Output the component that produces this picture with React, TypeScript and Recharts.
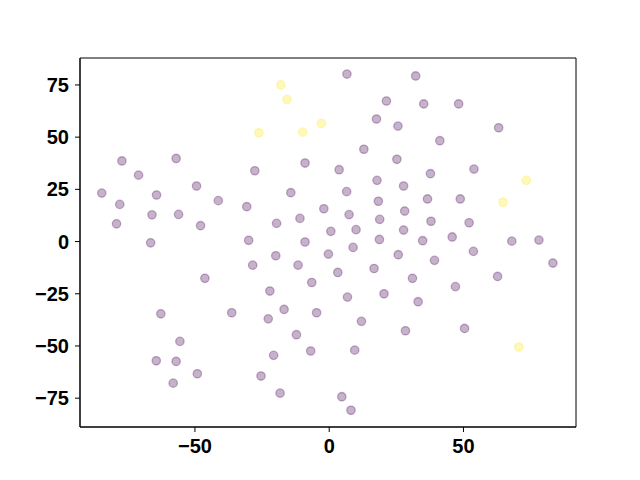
import React from 'react';
import { ScatterChart, Scatter, XAxis, YAxis, ReferenceArea } from 'recharts';

const purpleX = [-77.2, -57.0, -71.0, -49.4, -84.7, -64.3, -41.3, -78.0, -30.7, -66.0, -56.1, -79.2, -47.9, -66.5, -30.0,
  6.6, 32.2, 21.3, 17.6, 25.6, 12.9, 25.2, -9.0, -27.7, 3.7, 17.8, 27.7, -14.3, 6.5, 18.3, -2.0, 28.1, 7.4, -10.9, 18.8,
  -19.6, 0.6, 10.0, 27.7, -9.0, 18.7, 8.9, 35.2, 48.2, 63.1, 41.2, 37.7, 53.9, 36.6, 48.8, 37.9, 52.1, 34.8, 45.8, 68.0,
  78.1, 53.7, 39.2, 83.3, 31.0, 62.7, 47.0, 33.1, 28.4, 50.4, -19.9, -0.3, 25.7, -28.5, -11.6, 3.2, 16.7, -6.5, -22.1,
  6.8, 20.4, -16.8, -4.7, -22.7, 12.0, -12.2, -6.9, 9.5, -20.7, -25.4, -18.3, 4.7, 8.1, -46.3, -62.7, -36.3, -55.6,
  -64.4, -57.0, -49.1, -58.1];
const purpleY = [38.6, 39.8, 31.8, 26.6, 23.2, 22.3, 19.6, 17.8, 16.7, 12.8, 13.0, 8.5, 7.6, -0.6, 0.6,
  80.2, 79.3, 67.3, 58.7, 55.3, 44.2, 39.4, 37.6, 33.9, 34.4, 29.3, 26.6, 23.4, 23.9, 19.3, 15.7, 14.6, 12.9, 11.1, 10.6,
  8.7, 4.9, 5.7, 5.5, -0.2, 1.0, -2.8, 65.9, 65.9, 54.5, 48.3, 32.5, 34.7, 20.4, 20.4, 9.7, 9.0, 0.4, 2.2, 0.2,
  0.7, -4.7, -9.0, -10.3, -17.6, -16.7, -21.6, -28.8, -42.7, -41.6, -6.8, -6.0, -6.3, -11.3, -11.3, -14.8, -12.9, -19.6, -23.7,
  -26.6, -25.0, -32.5, -34.1, -37.0, -38.2, -44.6, -52.4, -52.0, -54.5, -64.4, -72.6, -74.3, -80.8, -17.6, -34.6, -34.1, -47.8,
  -57.1, -57.4, -63.3, -67.8];

const yellowX = [-18.0, -15.7, -26.2, -9.9, -2.9, 73.4, 64.7, 70.6];
const yellowY = [75.0, 68.1, 52.1, 52.4, 56.6, 29.3, 18.8, -50.5];

const xTicks = [-50, 0, 50];
const yTicks = [-75, -50, -25, 0, 25, 50, 75];
const xDomain: [number, number] = [-92.8, 91.9];
const yDomain: [number, number] = [-88.8, 87.9];

const purpleData = purpleX.map((x, i) => ({ x, y: purpleY[i] }));
const yellowData = yellowX.map((x, i) => ({ x, y: yellowY[i] }));

const fmt = (v: number) => String(v).replace('-', '\u2212');

const makeShape = (color: string) => (props: any) => {
  const { cx, cy } = props;
  if (cx == null || cy == null) return <g />;
  return (
    <circle cx={cx} cy={cy} r={4.2} fill={color} fillOpacity={0.3} stroke={color} strokeOpacity={0.3} strokeWidth={1.3} />
  );
};

const tickStyle = { fontFamily: '"Liberation Sans", Arial, sans-serif', fontWeight: 'bold', fontSize: 20, fill: '#000' };

export default function App() {
  return (
    <div style={{ position: 'absolute', left: 0, top: 0, width: 640, height: 480, background: '#fff' }}>
      <ScatterChart width={640} height={480} margin={{ top: 58, right: 64, bottom: 23, left: 20 }}>
        <XAxis
          type="number"
          dataKey="x"
          domain={xDomain}
          allowDataOverflow
          ticks={xTicks}
          tickFormatter={fmt}
          height={30}
          tickSize={5}
          tickMargin={7}
          stroke="#000"
          tick={tickStyle}
        />
        <YAxis
          type="number"
          dataKey="y"
          domain={yDomain}
          allowDataOverflow
          ticks={yTicks}
          tickFormatter={fmt}
          width={60}
          tickSize={5}
          tickMargin={6}
          stroke="#000"
          tick={tickStyle}
        />
        <ReferenceArea x1={xDomain[0]} x2={xDomain[1]} y1={yDomain[0]} y2={yDomain[1]} fill="none" stroke="#000" strokeWidth={1} ifOverflow="visible" />
        <Scatter data={purpleData} shape={makeShape('#440154')} isAnimationActive={false} />
        <Scatter data={yellowData} shape={makeShape('#fde725')} isAnimationActive={false} />
      </ScatterChart>
    </div>
  );
}
